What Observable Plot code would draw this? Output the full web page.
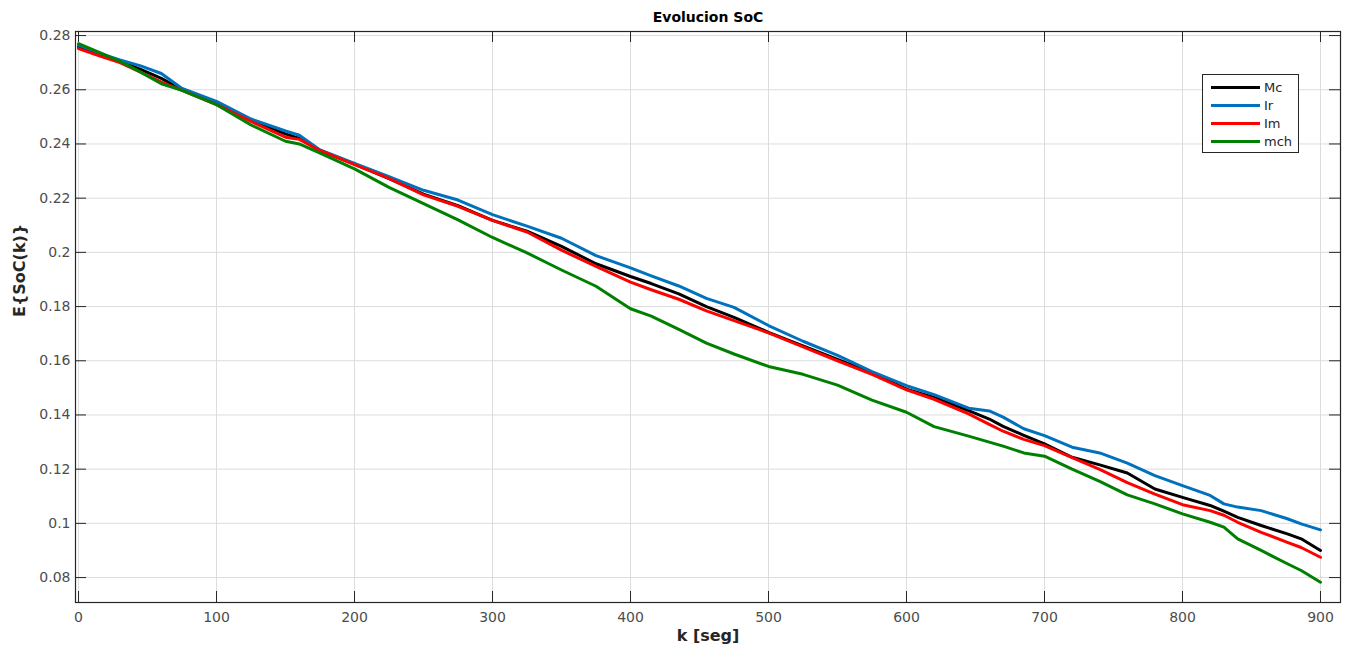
<!DOCTYPE html>
<html><head><meta charset="utf-8">
<script src="https://cdn.jsdelivr.net/npm/d3@7"></script>
<script src="https://cdn.jsdelivr.net/npm/@observablehq/plot@0.6"></script>
<style>
body{margin:0;background:#fff;}
#wrap{position:relative;width:1354px;height:656px;}
.legend{position:absolute;left:1202px;top:74px;width:97px;height:79px;border:1px solid #262626;background:#fff;box-sizing:border-box;font-family:"DejaVu Sans",sans-serif;font-size:13px;color:#262626;padding-top:3px}
.row{display:flex;align-items:center;height:18px}
.sw{width:49px;height:3px;margin-left:8px;margin-right:4px}
</style></head><body><div id="wrap"></div>
<script>
const k   = [0,15,30,45,60,75,100,125,150,160,175,200,225,250,275,300,325,350,375,400,415,435,455,475,500,525,550,575,600,620,645,660,670,685,700,720,740,760,780,800,820,830,840,857,876,886,900];
const mc  = [0.2758,0.2730,0.2705,0.2675,0.2642,0.2600,0.2550,0.2487,0.2437,0.2420,0.2375,0.2326,0.2272,0.2215,0.2172,0.2118,0.2078,0.2022,0.1958,0.1911,0.1885,0.1847,0.1800,0.1760,0.1705,0.1655,0.1605,0.1555,0.1495,0.1465,0.1416,0.1385,0.1358,0.1325,0.1293,0.1244,0.1216,0.1186,0.1127,0.1096,0.1066,0.1045,0.1022,0.0992,0.0961,0.0943,0.0900];
const ir  = [0.2765,0.2735,0.2710,0.2688,0.2660,0.2605,0.2557,0.2492,0.2448,0.2432,0.2378,0.2328,0.2279,0.2229,0.2193,0.2139,0.2097,0.2052,0.1988,0.1943,0.1913,0.1876,0.1830,0.1797,0.1730,0.1672,0.1620,0.1560,0.1508,0.1475,0.1425,0.1415,0.1392,0.1349,0.1324,0.1281,0.1260,0.1222,0.1176,0.1139,0.1103,0.1072,0.1060,0.1047,0.1017,0.0998,0.0976];
const im  = [0.2752,0.2725,0.2700,0.2665,0.2628,0.2598,0.2545,0.2483,0.2425,0.2417,0.2376,0.2324,0.2273,0.2212,0.2170,0.2118,0.2075,0.2008,0.1948,0.1890,0.1862,0.1827,0.1784,0.1748,0.1703,0.1651,0.1600,0.1550,0.1493,0.1458,0.1404,0.1365,0.1340,0.1310,0.1287,0.1243,0.1199,0.1150,0.1108,0.1069,0.1047,0.1030,0.1004,0.0967,0.0930,0.0911,0.0875];
const mch = [0.2770,0.2738,0.2705,0.2665,0.2622,0.2598,0.2545,0.2470,0.2410,0.2400,0.2366,0.2308,0.2240,0.2180,0.2120,0.2055,0.1998,0.1935,0.1875,0.1792,0.1765,0.1716,0.1665,0.1625,0.1579,0.1550,0.1510,0.1455,0.1410,0.1357,0.1322,0.1300,0.1285,0.1260,0.1248,0.1200,0.1155,0.1105,0.1072,0.1035,0.1004,0.0986,0.0943,0.0900,0.0851,0.0826,0.0783];
const seriesNames  = ["Mc","Ir","Im","mch"];
const seriesColors = ["#000000","#0072bd","#ff0000","#008000"];
const xTicks = [0,100,200,300,400,500,600,700,800,900];
const yTicks = [0.08,0.1,0.12,0.14,0.16,0.18,0.2,0.22,0.24,0.26,0.28];
const title = "Evolucion SoC", xLabel = "k [seg]", yLabel = "E{SoC(k)}";

const values = [mc, ir, im, mch];
const rows = seriesNames.flatMap((s, i) => k.map((kk, j) => ({k: kk, v: values[i][j], s})));

const W = 1354, H = 656, mL = 75, mR = 14, mT = 31, mB = 54;
const fw = W - mL - mR, fh = H - mT - mB, tl = 11;
const axisColor = "#262626";

const chart = Plot.plot({
  width: W, height: H,
  marginLeft: mL, marginRight: mR, marginTop: mT, marginBottom: mB,
  style: {fontFamily: "DejaVu Sans, sans-serif", fontSize: "14px", color: "#4d4d4d", background: "#fff"},
  x: {domain: [-2.2, 914.5], ticks: xTicks},
  y: {domain: [0.0708, 0.2815], ticks: yTicks},
  color: {domain: seriesNames, range: seriesColors},
  marks: [
    Plot.gridX(xTicks, {stroke: "#dcdcdc", strokeOpacity: 1}),
    Plot.gridY(yTicks, {stroke: "#dcdcdc", strokeOpacity: 1}),
    Plot.line(rows, {x: "k", y: "v", z: "s", stroke: "s", strokeWidth: 3}),
    Plot.tickX(xTicks, {x: d => d, insetTop: fh - tl, stroke: axisColor}),
    Plot.tickX(xTicks, {x: d => d, insetBottom: fh - tl, stroke: axisColor}),
    Plot.tickY(yTicks, {y: d => d, insetRight: fw - tl, stroke: axisColor}),
    Plot.tickY(yTicks, {y: d => d, insetLeft: fw - tl, stroke: axisColor}),
    Plot.axisX(xTicks, {tickSize: 0, tickPadding: 10, label: null, fill: "#4d4d4d", fontSize: 14}),
    Plot.axisY(yTicks, {tickSize: 0, tickPadding: 5, label: null, fill: "#4d4d4d", fontSize: 14, tickFormat: d => String(+d.toFixed(2))}),
    Plot.frame({stroke: axisColor, strokeWidth: 1.2}),
    Plot.text([title], {frameAnchor: "top", dy: -19, fontWeight: "bold", fontSize: 14, fill: "#000"}),
    Plot.text([xLabel], {frameAnchor: "bottom", dy: 38, fontWeight: "bold", fontSize: 16, fill: "#262626"}),
    Plot.text([yLabel], {frameAnchor: "left", dx: -56, rotate: -90, fontWeight: "bold", fontSize: 16, fill: "#262626"})
  ]
});

const wrap = document.getElementById("wrap");
wrap.appendChild(chart);
const leg = d3.select(wrap).append("div").attr("class", "legend");
seriesNames.forEach((s, i) => {
  const r = leg.append("div").attr("class", "row");
  r.append("div").attr("class", "sw").style("background", seriesColors[i]);
  r.append("span").text(s);
});
</script></body></html>
